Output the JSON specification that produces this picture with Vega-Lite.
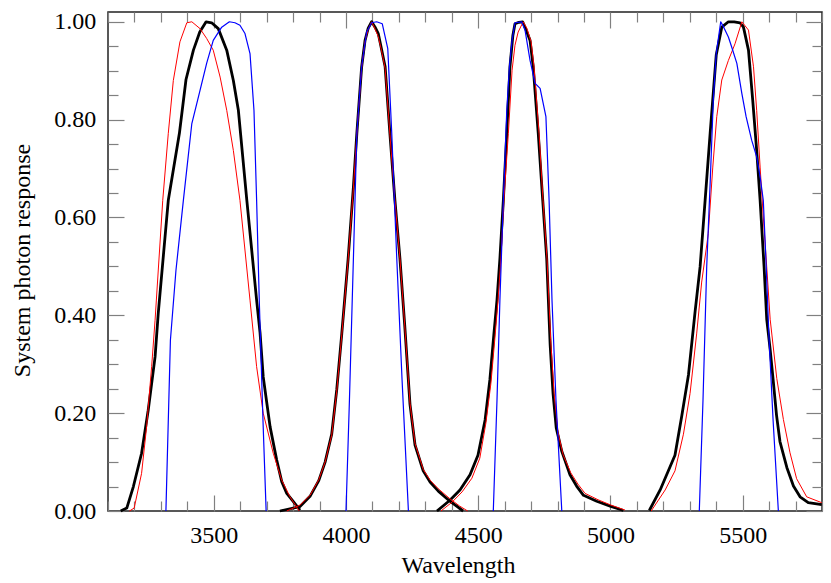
{
  "$schema": "https://vega.github.io/schema/vega-lite/v6.json",
  "width": 714,
  "height": 499,
  "autosize": {"type": "none"},
  "padding": {"left": 108, "top": 12, "right": 9, "bottom": 72},
  "background": "white",
  "config": {"view": {"stroke": "#222", "strokeWidth": 1.5}, "font": "Liberation Serif"},
  "datasets": {
    "curves": [
      {"s":"S1","b":1,"w":3148,"r":0},{"s":"S1","b":1,"w":3171,"r":0.006},{"s":"S1","b":1,"w":3196,"r":0.05},{"s":"S1","b":1,"w":3227,"r":0.118},{"s":"S1","b":1,"w":3252,"r":0.206},{"s":"S1","b":1,"w":3278,"r":0.315},{"s":"S1","b":1,"w":3290,"r":0.404},{"s":"S1","b":1,"w":3328,"r":0.635},{"s":"S1","b":1,"w":3370,"r":0.772},{"s":"S1","b":1,"w":3395,"r":0.882},{"s":"S1","b":1,"w":3423,"r":0.942},{"s":"S1","b":1,"w":3447,"r":0.979},{"s":"S1","b":1,"w":3471,"r":1.0},{"s":"S1","b":1,"w":3492,"r":0.998},{"s":"S1","b":1,"w":3517,"r":0.986},{"s":"S1","b":1,"w":3549,"r":0.942},{"s":"S1","b":1,"w":3574,"r":0.88},{"s":"S1","b":1,"w":3593,"r":0.819},{"s":"S1","b":1,"w":3625,"r":0.635},{"s":"S1","b":1,"w":3662,"r":0.431},{"s":"S1","b":1,"w":3675,"r":0.364},{"s":"S1","b":1,"w":3687,"r":0.274},{"s":"S1","b":1,"w":3713,"r":0.172},{"s":"S1","b":1,"w":3738,"r":0.104},{"s":"S1","b":1,"w":3757,"r":0.06},{"s":"S1","b":1,"w":3776,"r":0.036},{"s":"S1","b":1,"w":3801,"r":0.019},{"s":"S1","b":1,"w":3826,"r":0.002},
      {"s":"S1","b":2,"w":3750,"r":0},{"s":"S1","b":2,"w":3826,"r":0.009},{"s":"S1","b":2,"w":3864,"r":0.03},{"s":"S1","b":2,"w":3897,"r":0.062},{"s":"S1","b":2,"w":3921,"r":0.1},{"s":"S1","b":2,"w":3946,"r":0.157},{"s":"S1","b":2,"w":3965,"r":0.248},{"s":"S1","b":2,"w":3984,"r":0.362},{"s":"S1","b":2,"w":4008,"r":0.515},{"s":"S1","b":2,"w":4028,"r":0.662},{"s":"S1","b":2,"w":4041,"r":0.772},{"s":"S1","b":2,"w":4059,"r":0.907},{"s":"S1","b":2,"w":4072,"r":0.962},{"s":"S1","b":2,"w":4084,"r":0.987},{"s":"S1","b":2,"w":4097,"r":1.0},{"s":"S1","b":2,"w":4110,"r":0.989},{"s":"S1","b":2,"w":4122,"r":0.976},{"s":"S1","b":2,"w":4134,"r":0.945},{"s":"S1","b":2,"w":4148,"r":0.908},{"s":"S1","b":2,"w":4166,"r":0.772},{"s":"S1","b":2,"w":4185,"r":0.635},{"s":"S1","b":2,"w":4204,"r":0.516},{"s":"S1","b":2,"w":4222,"r":0.38},{"s":"S1","b":2,"w":4242,"r":0.218},{"s":"S1","b":2,"w":4261,"r":0.135},{"s":"S1","b":2,"w":4292,"r":0.082},{"s":"S1","b":2,"w":4318,"r":0.059},{"s":"S1","b":2,"w":4350,"r":0.04},{"s":"S1","b":2,"w":4393,"r":0.02},{"s":"S1","b":2,"w":4443,"r":0},
      {"s":"S1","b":3,"w":4344,"r":0},{"s":"S1","b":3,"w":4393,"r":0.022},{"s":"S1","b":3,"w":4431,"r":0.043},{"s":"S1","b":3,"w":4469,"r":0.074},{"s":"S1","b":3,"w":4499,"r":0.114},{"s":"S1","b":3,"w":4526,"r":0.186},{"s":"S1","b":3,"w":4544,"r":0.268},{"s":"S1","b":3,"w":4559,"r":0.36},{"s":"S1","b":3,"w":4571,"r":0.431},{"s":"S1","b":3,"w":4582,"r":0.516},{"s":"S1","b":3,"w":4595,"r":0.635},{"s":"S1","b":3,"w":4608,"r":0.772},{"s":"S1","b":3,"w":4620,"r":0.908},{"s":"S1","b":3,"w":4631,"r":0.972},{"s":"S1","b":3,"w":4639,"r":0.996},{"s":"S1","b":3,"w":4654,"r":0.999},{"s":"S1","b":3,"w":4668,"r":1.0},{"s":"S1","b":3,"w":4681,"r":0.983},{"s":"S1","b":3,"w":4696,"r":0.962},{"s":"S1","b":3,"w":4708,"r":0.908},{"s":"S1","b":3,"w":4727,"r":0.772},{"s":"S1","b":3,"w":4744,"r":0.635},{"s":"S1","b":3,"w":4759,"r":0.516},{"s":"S1","b":3,"w":4772,"r":0.34},{"s":"S1","b":3,"w":4783,"r":0.24},{"s":"S1","b":3,"w":4795,"r":0.17},{"s":"S1","b":3,"w":4816,"r":0.122},{"s":"S1","b":3,"w":4847,"r":0.074},{"s":"S1","b":3,"w":4872,"r":0.051},{"s":"S1","b":3,"w":4898,"r":0.032},{"s":"S1","b":3,"w":4948,"r":0.02},{"s":"S1","b":3,"w":4999,"r":0.01},{"s":"S1","b":3,"w":5049,"r":0.001},
      {"s":"S1","b":4,"w":5147,"r":0.001},{"s":"S1","b":4,"w":5188,"r":0.043},{"s":"S1","b":4,"w":5244,"r":0.114},{"s":"S1","b":4,"w":5270,"r":0.195},{"s":"S1","b":4,"w":5295,"r":0.278},{"s":"S1","b":4,"w":5320,"r":0.407},{"s":"S1","b":4,"w":5339,"r":0.499},{"s":"S1","b":4,"w":5358,"r":0.635},{"s":"S1","b":4,"w":5377,"r":0.772},{"s":"S1","b":4,"w":5400,"r":0.932},{"s":"S1","b":4,"w":5421,"r":0.989},{"s":"S1","b":4,"w":5446,"r":1.0},{"s":"S1","b":4,"w":5468,"r":1.0},{"s":"S1","b":4,"w":5490,"r":0.998},{"s":"S1","b":4,"w":5503,"r":0.989},{"s":"S1","b":4,"w":5522,"r":0.942},{"s":"S1","b":4,"w":5538,"r":0.84},{"s":"S1","b":4,"w":5553,"r":0.737},{"s":"S1","b":4,"w":5566,"r":0.635},{"s":"S1","b":4,"w":5581,"r":0.499},{"s":"S1","b":4,"w":5591,"r":0.392},{"s":"S1","b":4,"w":5604,"r":0.33},{"s":"S1","b":4,"w":5616,"r":0.264},{"s":"S1","b":4,"w":5628,"r":0.196},{"s":"S1","b":4,"w":5641,"r":0.142},{"s":"S1","b":4,"w":5667,"r":0.089},{"s":"S1","b":4,"w":5692,"r":0.051},{"s":"S1","b":4,"w":5717,"r":0.029},{"s":"S1","b":4,"w":5748,"r":0.017},{"s":"S1","b":4,"w":5799,"r":0.013},
      {"s":"S2","b":1,"w":3181,"r":0},{"s":"S2","b":1,"w":3199,"r":0.006},{"s":"S2","b":1,"w":3227,"r":0.077},{"s":"S2","b":1,"w":3246,"r":0.172},{"s":"S2","b":1,"w":3265,"r":0.295},{"s":"S2","b":1,"w":3278,"r":0.39},{"s":"S2","b":1,"w":3307,"r":0.635},{"s":"S2","b":1,"w":3328,"r":0.772},{"s":"S2","b":1,"w":3347,"r":0.88},{"s":"S2","b":1,"w":3372,"r":0.959},{"s":"S2","b":1,"w":3398,"r":0.998},{"s":"S2","b":1,"w":3417,"r":1.0},{"s":"S2","b":1,"w":3448,"r":0.986},{"s":"S2","b":1,"w":3473,"r":0.966},{"s":"S2","b":1,"w":3498,"r":0.942},{"s":"S2","b":1,"w":3524,"r":0.887},{"s":"S2","b":1,"w":3549,"r":0.819},{"s":"S2","b":1,"w":3574,"r":0.737},{"s":"S2","b":1,"w":3599,"r":0.635},{"s":"S2","b":1,"w":3637,"r":0.431},{"s":"S2","b":1,"w":3662,"r":0.295},{"s":"S2","b":1,"w":3687,"r":0.2},{"s":"S2","b":1,"w":3725,"r":0.118},{"s":"S2","b":1,"w":3757,"r":0.063},{"s":"S2","b":1,"w":3788,"r":0.029},{"s":"S2","b":1,"w":3823,"r":0},
      {"s":"S2","b":2,"w":3776,"r":0},{"s":"S2","b":2,"w":3826,"r":0.012},{"s":"S2","b":2,"w":3864,"r":0.032},{"s":"S2","b":2,"w":3897,"r":0.064},{"s":"S2","b":2,"w":3921,"r":0.1},{"s":"S2","b":2,"w":3946,"r":0.155},{"s":"S2","b":2,"w":3965,"r":0.245},{"s":"S2","b":2,"w":3984,"r":0.36},{"s":"S2","b":2,"w":4008,"r":0.513},{"s":"S2","b":2,"w":4028,"r":0.66},{"s":"S2","b":2,"w":4041,"r":0.77},{"s":"S2","b":2,"w":4059,"r":0.905},{"s":"S2","b":2,"w":4072,"r":0.96},{"s":"S2","b":2,"w":4084,"r":0.985},{"s":"S2","b":2,"w":4097,"r":1.0},{"s":"S2","b":2,"w":4110,"r":0.985},{"s":"S2","b":2,"w":4122,"r":0.97},{"s":"S2","b":2,"w":4134,"r":0.942},{"s":"S2","b":2,"w":4148,"r":0.905},{"s":"S2","b":2,"w":4166,"r":0.77},{"s":"S2","b":2,"w":4185,"r":0.635},{"s":"S2","b":2,"w":4204,"r":0.516},{"s":"S2","b":2,"w":4222,"r":0.38},{"s":"S2","b":2,"w":4242,"r":0.22},{"s":"S2","b":2,"w":4261,"r":0.138},{"s":"S2","b":2,"w":4292,"r":0.085},{"s":"S2","b":2,"w":4318,"r":0.063},{"s":"S2","b":2,"w":4350,"r":0.045},{"s":"S2","b":2,"w":4393,"r":0.025},{"s":"S2","b":2,"w":4430,"r":0.01},{"s":"S2","b":2,"w":4460,"r":0},
      {"s":"S2","b":3,"w":4359,"r":0},{"s":"S2","b":3,"w":4401,"r":0.018},{"s":"S2","b":3,"w":4439,"r":0.039},{"s":"S2","b":3,"w":4476,"r":0.067},{"s":"S2","b":3,"w":4506,"r":0.108},{"s":"S2","b":3,"w":4529,"r":0.18},{"s":"S2","b":3,"w":4548,"r":0.261},{"s":"S2","b":3,"w":4563,"r":0.353},{"s":"S2","b":3,"w":4575,"r":0.431},{"s":"S2","b":3,"w":4586,"r":0.517},{"s":"S2","b":3,"w":4597,"r":0.635},{"s":"S2","b":3,"w":4614,"r":0.772},{"s":"S2","b":3,"w":4628,"r":0.901},{"s":"S2","b":3,"w":4639,"r":0.952},{"s":"S2","b":3,"w":4651,"r":0.979},{"s":"S2","b":3,"w":4670,"r":1.0},{"s":"S2","b":3,"w":4684,"r":0.987},{"s":"S2","b":3,"w":4700,"r":0.959},{"s":"S2","b":3,"w":4711,"r":0.908},{"s":"S2","b":3,"w":4730,"r":0.772},{"s":"S2","b":3,"w":4745,"r":0.635},{"s":"S2","b":3,"w":4760,"r":0.517},{"s":"S2","b":3,"w":4774,"r":0.35},{"s":"S2","b":3,"w":4787,"r":0.24},{"s":"S2","b":3,"w":4802,"r":0.16},{"s":"S2","b":3,"w":4821,"r":0.115},{"s":"S2","b":3,"w":4850,"r":0.078},{"s":"S2","b":3,"w":4877,"r":0.055},{"s":"S2","b":3,"w":4904,"r":0.036},{"s":"S2","b":3,"w":4953,"r":0.023},{"s":"S2","b":3,"w":5002,"r":0.012},{"s":"S2","b":3,"w":5055,"r":0.002},
      {"s":"S2","b":4,"w":5154,"r":0},{"s":"S2","b":4,"w":5207,"r":0.043},{"s":"S2","b":4,"w":5244,"r":0.082},{"s":"S2","b":4,"w":5276,"r":0.157},{"s":"S2","b":4,"w":5301,"r":0.24},{"s":"S2","b":4,"w":5326,"r":0.362},{"s":"S2","b":4,"w":5345,"r":0.468},{"s":"S2","b":4,"w":5370,"r":0.567},{"s":"S2","b":4,"w":5387,"r":0.703},{"s":"S2","b":4,"w":5402,"r":0.806},{"s":"S2","b":4,"w":5421,"r":0.881},{"s":"S2","b":4,"w":5446,"r":0.921},{"s":"S2","b":4,"w":5471,"r":0.955},{"s":"S2","b":4,"w":5497,"r":1.0},{"s":"S2","b":4,"w":5522,"r":0.983},{"s":"S2","b":4,"w":5541,"r":0.908},{"s":"S2","b":4,"w":5553,"r":0.819},{"s":"S2","b":4,"w":5566,"r":0.703},{"s":"S2","b":4,"w":5578,"r":0.601},{"s":"S2","b":4,"w":5591,"r":0.499},{"s":"S2","b":4,"w":5604,"r":0.392},{"s":"S2","b":4,"w":5629,"r":0.271},{"s":"S2","b":4,"w":5654,"r":0.187},{"s":"S2","b":4,"w":5679,"r":0.119},{"s":"S2","b":4,"w":5704,"r":0.066},{"s":"S2","b":4,"w":5742,"r":0.029},{"s":"S2","b":4,"w":5799,"r":0.017},
      {"s":"S3","b":1,"w":3319,"r":0},{"s":"S3","b":1,"w":3336,"r":0.349},{"s":"S3","b":1,"w":3357,"r":0.492},{"s":"S3","b":1,"w":3385,"r":0.635},{"s":"S3","b":1,"w":3417,"r":0.792},{"s":"S3","b":1,"w":3448,"r":0.86},{"s":"S3","b":1,"w":3473,"r":0.915},{"s":"S3","b":1,"w":3498,"r":0.962},{"s":"S3","b":1,"w":3530,"r":0.989},{"s":"S3","b":1,"w":3559,"r":1.0},{"s":"S3","b":1,"w":3580,"r":0.998},{"s":"S3","b":1,"w":3599,"r":0.993},{"s":"S3","b":1,"w":3618,"r":0.976},{"s":"S3","b":1,"w":3637,"r":0.935},{"s":"S3","b":1,"w":3652,"r":0.819},{"s":"S3","b":1,"w":3662,"r":0.635},{"s":"S3","b":1,"w":3672,"r":0.431},{"s":"S3","b":1,"w":3686,"r":0.186},{"s":"S3","b":1,"w":3698,"r":0},
      {"s":"S3","b":2,"w":4000,"r":0},{"s":"S3","b":2,"w":4013,"r":0.227},{"s":"S3","b":2,"w":4028,"r":0.516},{"s":"S3","b":2,"w":4041,"r":0.772},{"s":"S3","b":2,"w":4059,"r":0.908},{"s":"S3","b":2,"w":4078,"r":0.979},{"s":"S3","b":2,"w":4097,"r":0.998},{"s":"S3","b":2,"w":4116,"r":1.0},{"s":"S3","b":2,"w":4137,"r":0.996},{"s":"S3","b":2,"w":4158,"r":0.945},{"s":"S3","b":2,"w":4173,"r":0.772},{"s":"S3","b":2,"w":4192,"r":0.516},{"s":"S3","b":2,"w":4212,"r":0.268},{"s":"S3","b":2,"w":4236,"r":0},
      {"s":"S3","b":3,"w":4557,"r":0},{"s":"S3","b":3,"w":4571,"r":0.227},{"s":"S3","b":3,"w":4582,"r":0.431},{"s":"S3","b":3,"w":4595,"r":0.635},{"s":"S3","b":3,"w":4608,"r":0.819},{"s":"S3","b":3,"w":4618,"r":0.908},{"s":"S3","b":3,"w":4628,"r":0.962},{"s":"S3","b":3,"w":4639,"r":0.998},{"s":"S3","b":3,"w":4664,"r":1.0},{"s":"S3","b":3,"w":4677,"r":0.983},{"s":"S3","b":3,"w":4696,"r":0.921},{"s":"S3","b":3,"w":4715,"r":0.874},{"s":"S3","b":3,"w":4734,"r":0.864},{"s":"S3","b":3,"w":4756,"r":0.806},{"s":"S3","b":3,"w":4768,"r":0.635},{"s":"S3","b":3,"w":4779,"r":0.431},{"s":"S3","b":3,"w":4794,"r":0.227},{"s":"S3","b":3,"w":4816,"r":0},
      {"s":"S3","b":4,"w":5336,"r":0},{"s":"S3","b":4,"w":5350,"r":0.227},{"s":"S3","b":4,"w":5364,"r":0.499},{"s":"S3","b":4,"w":5377,"r":0.67},{"s":"S3","b":4,"w":5389,"r":0.84},{"s":"S3","b":4,"w":5400,"r":0.935},{"s":"S3","b":4,"w":5417,"r":1.0},{"s":"S3","b":4,"w":5430,"r":0.987},{"s":"S3","b":4,"w":5446,"r":0.969},{"s":"S3","b":4,"w":5460,"r":0.946},{"s":"S3","b":4,"w":5478,"r":0.915},{"s":"S3","b":4,"w":5497,"r":0.853},{"s":"S3","b":4,"w":5513,"r":0.806},{"s":"S3","b":4,"w":5534,"r":0.758},{"s":"S3","b":4,"w":5553,"r":0.724},{"s":"S3","b":4,"w":5566,"r":0.683},{"s":"S3","b":4,"w":5578,"r":0.635},{"s":"S3","b":4,"w":5588,"r":0.513},{"s":"S3","b":4,"w":5600,"r":0.349},{"s":"S3","b":4,"w":5615,"r":0.186},{"s":"S3","b":4,"w":5635,"r":0}
    ]
  },
  "data": {"name": "curves"},
  "layer": [
    {
      "encoding": {
        "x": {
          "field": "w", "type": "quantitative",
          "scale": {"domain": [3100, 5800], "nice": false, "zero": false},
          "axis": {
            "orient": "bottom",
            "values": [3100,3200,3300,3400,3500,3600,3700,3800,3900,4000,4100,4200,4300,4400,4500,4600,4700,4800,4900,5000,5100,5200,5300,5400,5500,5600,5700,5800],
            "format": "d",
            "labelExpr": "datum.value % 500 === 0 ? datum.label : ''",
            "tickSize": {"condition": {"test": "datum.value % 500 === 0", "value": -16}, "value": -10},
            "tickColor": "#808080", "tickWidth": 1.2,
            "domain": false, "grid": false,
            "labelFont": "Liberation Serif", "labelFontSize": 24, "labelColor": "#000",
            "labelPadding": 28.5, "labelFlush": false, "labelOverlap": false,
            "title": "Wavelength", "titleFont": "Liberation Serif", "titleFontSize": 24,
            "titleFontWeight": "normal", "titleColor": "#000",
            "titleBaseline": "alphabetic", "titleAlign": "center", "titleX": 350, "titleY": 61
          }
        },
        "y": {
          "field": "r", "type": "quantitative",
          "scale": {"domain": [0, 1.02], "nice": false, "zero": false},
          "axis": {
            "orient": "left",
            "values": [0,0.05,0.1,0.15,0.2,0.25,0.3,0.35,0.4,0.45,0.5,0.55,0.6,0.65,0.7,0.75,0.8,0.85,0.9,0.95,1.0],
            "format": ".2f",
            "labelExpr": "round(datum.value * 100) % 20 === 0 ? datum.label : ''",
            "tickSize": {"condition": {"test": "round(datum.value * 100) % 20 === 0", "value": -16}, "value": -10},
            "tickColor": "#808080", "tickWidth": 1.2,
            "domain": false, "grid": false,
            "labelFont": "Liberation Serif", "labelFontSize": 24, "labelColor": "#000",
            "labelPadding": 28.3, "labelFlush": false, "labelOverlap": false,
            "title": "System photon response", "titleFont": "Liberation Serif", "titleFontSize": 24,
            "titleFontWeight": "normal", "titleColor": "#000",
            "titleBaseline": "alphabetic", "titleAlign": "center", "titleAngle": -90, "titleX": -79, "titleY": 248
          }
        },
        "detail": {"field": "b", "type": "nominal"}
      },
      "layer": [
        {"transform": [{"filter": "datum.s === 'S1'"}], "mark": {"type": "line", "color": "#000000", "strokeWidth": 2.8, "strokeJoin": "round"}},
        {"transform": [{"filter": "datum.s === 'S2'"}], "mark": {"type": "line", "color": "#ff0000", "strokeWidth": 1, "strokeJoin": "round"}}
      ]
    },
    {
      "transform": [{"filter": "datum.s === 'S3'"}],
      "mark": {"type": "line", "color": "#0000ff", "strokeWidth": 1.2, "strokeJoin": "round"},
      "encoding": {
        "x": {
          "field": "w", "type": "quantitative",
          "scale": {"domain": [3100, 5800], "nice": false, "zero": false},
          "axis": {
            "orient": "top",
            "values": [3100,3200,3300,3400,3500,3600,3700,3800,3900,4000,4100,4200,4300,4400,4500,4600,4700,4800,4900,5000,5100,5200,5300,5400,5500,5600,5700,5800],
            "labels": false, "title": null, "domain": false, "grid": false,
            "tickSize": {"condition": {"test": "datum.value % 500 === 0", "value": -16}, "value": -10},
            "tickColor": "#808080", "tickWidth": 1.2
          }
        },
        "y": {
          "field": "r", "type": "quantitative",
          "scale": {"domain": [0, 1.02], "nice": false, "zero": false},
          "axis": {
            "orient": "right",
            "values": [0,0.05,0.1,0.15,0.2,0.25,0.3,0.35,0.4,0.45,0.5,0.55,0.6,0.65,0.7,0.75,0.8,0.85,0.9,0.95,1.0],
            "labels": false, "title": null, "domain": false, "grid": false,
            "tickSize": {"condition": {"test": "round(datum.value * 100) % 20 === 0", "value": -16}, "value": -10},
            "tickColor": "#808080", "tickWidth": 1.2
          }
        },
        "detail": {"field": "b", "type": "nominal"}
      }
    }
  ],
  "resolve": {"axis": {"x": "independent", "y": "independent"}}
}
